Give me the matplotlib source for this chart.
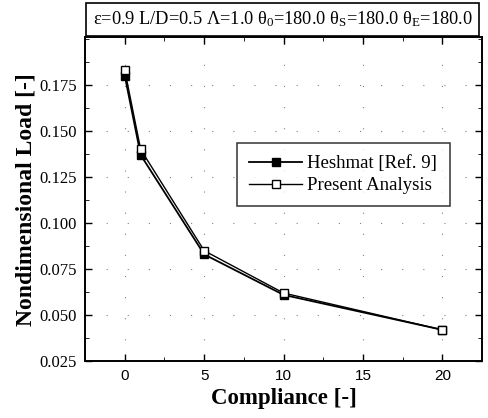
import matplotlib
matplotlib.use('Agg')
import matplotlib.pyplot as plt
from matplotlib.ticker import MultipleLocator

# data
compliance = [0, 1, 5, 10, 20]
heshmat = [0.180, 0.137, 0.083, 0.061, 0.042]
present = [0.183, 0.140, 0.085, 0.062, 0.042]

x_ticks = [0, 5, 10, 15, 20]
y_ticks = [0.025, 0.050, 0.075, 0.100, 0.125, 0.150, 0.175]

plt.rcParams['mathtext.fontset'] = 'custom'
plt.rcParams['mathtext.rm'] = 'Liberation Serif'
plt.rcParams['mathtext.it'] = 'Liberation Serif'

fig = plt.figure(figsize=(4.89, 4.18), dpi=100)
ax = fig.add_axes([0.174, 0.136, 0.812, 0.775])

ax.plot(compliance, heshmat, color='black', lw=1.3, marker='s', ms=5.5,
        mfc='black', mec='black', label='Heshmat [Ref. 9]')
ax.plot(compliance, present, color='black', lw=1.0, marker='s', ms=6,
        mfc='white', mec='black', label='Present Analysis')

ax.set_xlim(-2.5, 22.5)
ax.set_ylim(0.025, 0.201)
ax.set_xticks(x_ticks)
ax.set_yticks(y_ticks)
ax.set_yticklabels([f'{v:.3f}' for v in y_ticks], family='Liberation Serif', fontsize=12)
ax.set_xticklabels([str(v) for v in x_ticks], family='Liberation Sans', fontsize=11)
ax.xaxis.set_minor_locator(MultipleLocator(2.5))
ax.yaxis.set_minor_locator(MultipleLocator(0.0125))
ax.tick_params(direction='in', length=5, width=1, top=True, right=True, pad=6)
ax.tick_params(which='minor', direction='in', length=3, top=True, right=True)
for sp in ax.spines.values():
    sp.set_linewidth(1.4)

# sparse dotted grid
ax.grid(True, color='gray', linestyle=(0, (1, 18)), lw=0.8)

ax.set_xlabel('Compliance [-]', family='Liberation Serif', fontweight='bold', fontsize=16.5, labelpad=3)
ax.set_ylabel('Nondimensional Load [-]', family='Liberation Serif', fontweight='bold', fontsize=17, labelpad=2)

leg = ax.legend(loc='upper left', bbox_to_anchor=(0.383, 0.673), borderaxespad=0,
                frameon=True, fancybox=False, edgecolor='black',
                handlelength=2.8, handletextpad=0.3,
                prop={'family': 'Liberation Serif', 'size': 13.5}, borderpad=0.65,
                labelspacing=0.25)
leg.get_frame().set_linewidth(1.1)

fig.text(0.578, 0.953,
         r'$\mathrm{\varepsilon}$=0.9 L/D=0.5 $\mathrm{\Lambda}$=1.0 '
         r'$\mathrm{\theta_{0}}$=180.0 $\mathrm{\theta_{S}}$=180.0 $\mathrm{\theta_{E}}$=180.0',
         ha='center', va='center', family='Liberation Serif', fontsize=13.2,
         bbox=dict(boxstyle='square,pad=0.35', fc='white', ec='black', lw=1.2))

fig.savefig('out.png', dpi=100)
